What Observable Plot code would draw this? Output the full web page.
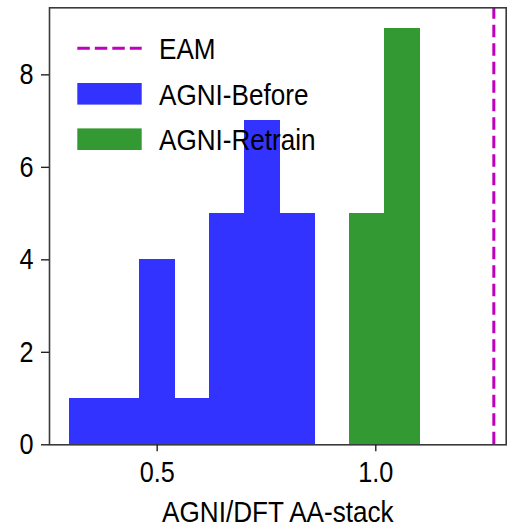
<!DOCTYPE html>
<html><head><meta charset="utf-8">
<script src="https://cdn.jsdelivr.net/npm/d3@7"></script>
<script src="https://cdn.jsdelivr.net/npm/@observablehq/plot@0.6"></script>
<style>body{margin:0;background:#fff} #chart{width:510px;height:527px}</style>
</head><body><div id="chart"></div>
<script>
// ---- data ----
const beforeEdges = [0.30, 0.38, 0.46, 0.54, 0.62, 0.70, 0.78, 0.86];
const beforeCounts = [1, 1, 4, 1, 5, 7, 5];
const retrainEdges = [0.94, 1.02, 1.10];
const retrainCounts = [5, 9];
const eamValue = 1.27;
const xTicks = [0.5, 1.0];
const yTicks = [0, 2, 4, 6, 8];
const xDomain = [0.2537, 1.2983];
const yDomain = [0, 9.45];
const seriesNames = ["EAM", "AGNI-Before", "AGNI-Retrain"];
const seriesColors = ["#bf00bf", "#3333ff", "#339933"];
const xLabel = "AGNI/DFT AA-stack";

const toBins = (edges, counts, series) => counts.map((c, i) => ({x1: edges[i], x2: edges[i + 1], y: c, series}));
const bins = [...toBins(beforeEdges, beforeCounts, "AGNI-Before"), ...toBins(retrainEdges, retrainCounts, "AGNI-Retrain")];

const FS = 29, FL = 30, SX = 0.87;
const plot = Plot.plot({
  width: 510, height: 527,
  marginLeft: 49, marginRight: 4.3, marginTop: 7.3, marginBottom: 82.7,
  style: {fontFamily: "'Liberation Sans', Arial, sans-serif", fontSize: FS + "px", color: "#000", background: "#fff", overflow: "visible"},
  x: {domain: xDomain},
  y: {domain: yDomain},
  color: {domain: seriesNames, range: seriesColors},
  marks: [
    Plot.rectY(bins, {x1: "x1", x2: "x2", y: "y", fill: "series", stroke: "series", strokeWidth: 1, shapeRendering: "crispEdges"}),
    Plot.ruleX([eamValue], {y1: yDomain[0], y2: yDomain[1], stroke: seriesColors[0], strokeWidth: 3, strokeDasharray: "12.5,6"}),
    Plot.frame({stroke: "#3a3a3a", strokeWidth: 1.6}),
    Plot.axisY({ticks: yTicks, tickSize: 8, tickPadding: 8, label: null, stroke: "#222", strokeWidth: 1.4, fontSize: FS}),
    Plot.axisX({ticks: xTicks, tickFormat: d3.format(".1f"), tickSize: 7, tickPadding: 10, label: null, stroke: "#222", strokeWidth: 1.4, fontSize: FS}),
    Plot.text([xLabel], {text: d => d, frameAnchor: "bottom", dy: 68, lineAnchor: "middle", fontSize: FL, fill: "#000"})
  ]
});

// ---- legend ----
const svg = d3.select(plot);
const lg = svg.append("g").attr("class", "legend").attr("text-anchor", "start");
const lx = 77.3, lw = 64.4, tx = 159;
const rowsY = [48.3, 93.8, 139.2];
seriesNames.forEach((name, i) => {
  const cy = rowsY[i];
  if (i === 0) {
    lg.append("line").attr("x1", lx).attr("x2", lx + lw).attr("y1", cy).attr("y2", cy)
      .attr("stroke", seriesColors[i]).attr("stroke-width", 3).attr("stroke-dasharray", "12.5,5");
  } else {
    lg.append("rect").attr("x", lx).attr("y", cy - 10.8).attr("width", lw).attr("height", 21.6)
      .attr("fill", seriesColors[i]);
  }
  lg.append("text").attr("x", tx).attr("y", cy + 0.358 * FL).attr("font-size", FL).attr("fill", "#000").text(name);
});

document.getElementById("chart").appendChild(plot);

// matplotlib-like narrow text: compress glyphs horizontally, keeping anchors
plot.querySelectorAll("text").forEach(t => {
  const len = t.getComputedTextLength();
  if (len > 0) {
    t.setAttribute("textLength", (len * SX).toFixed(2));
    t.setAttribute("lengthAdjust", "spacingAndGlyphs");
  }
});
</script></body></html>
